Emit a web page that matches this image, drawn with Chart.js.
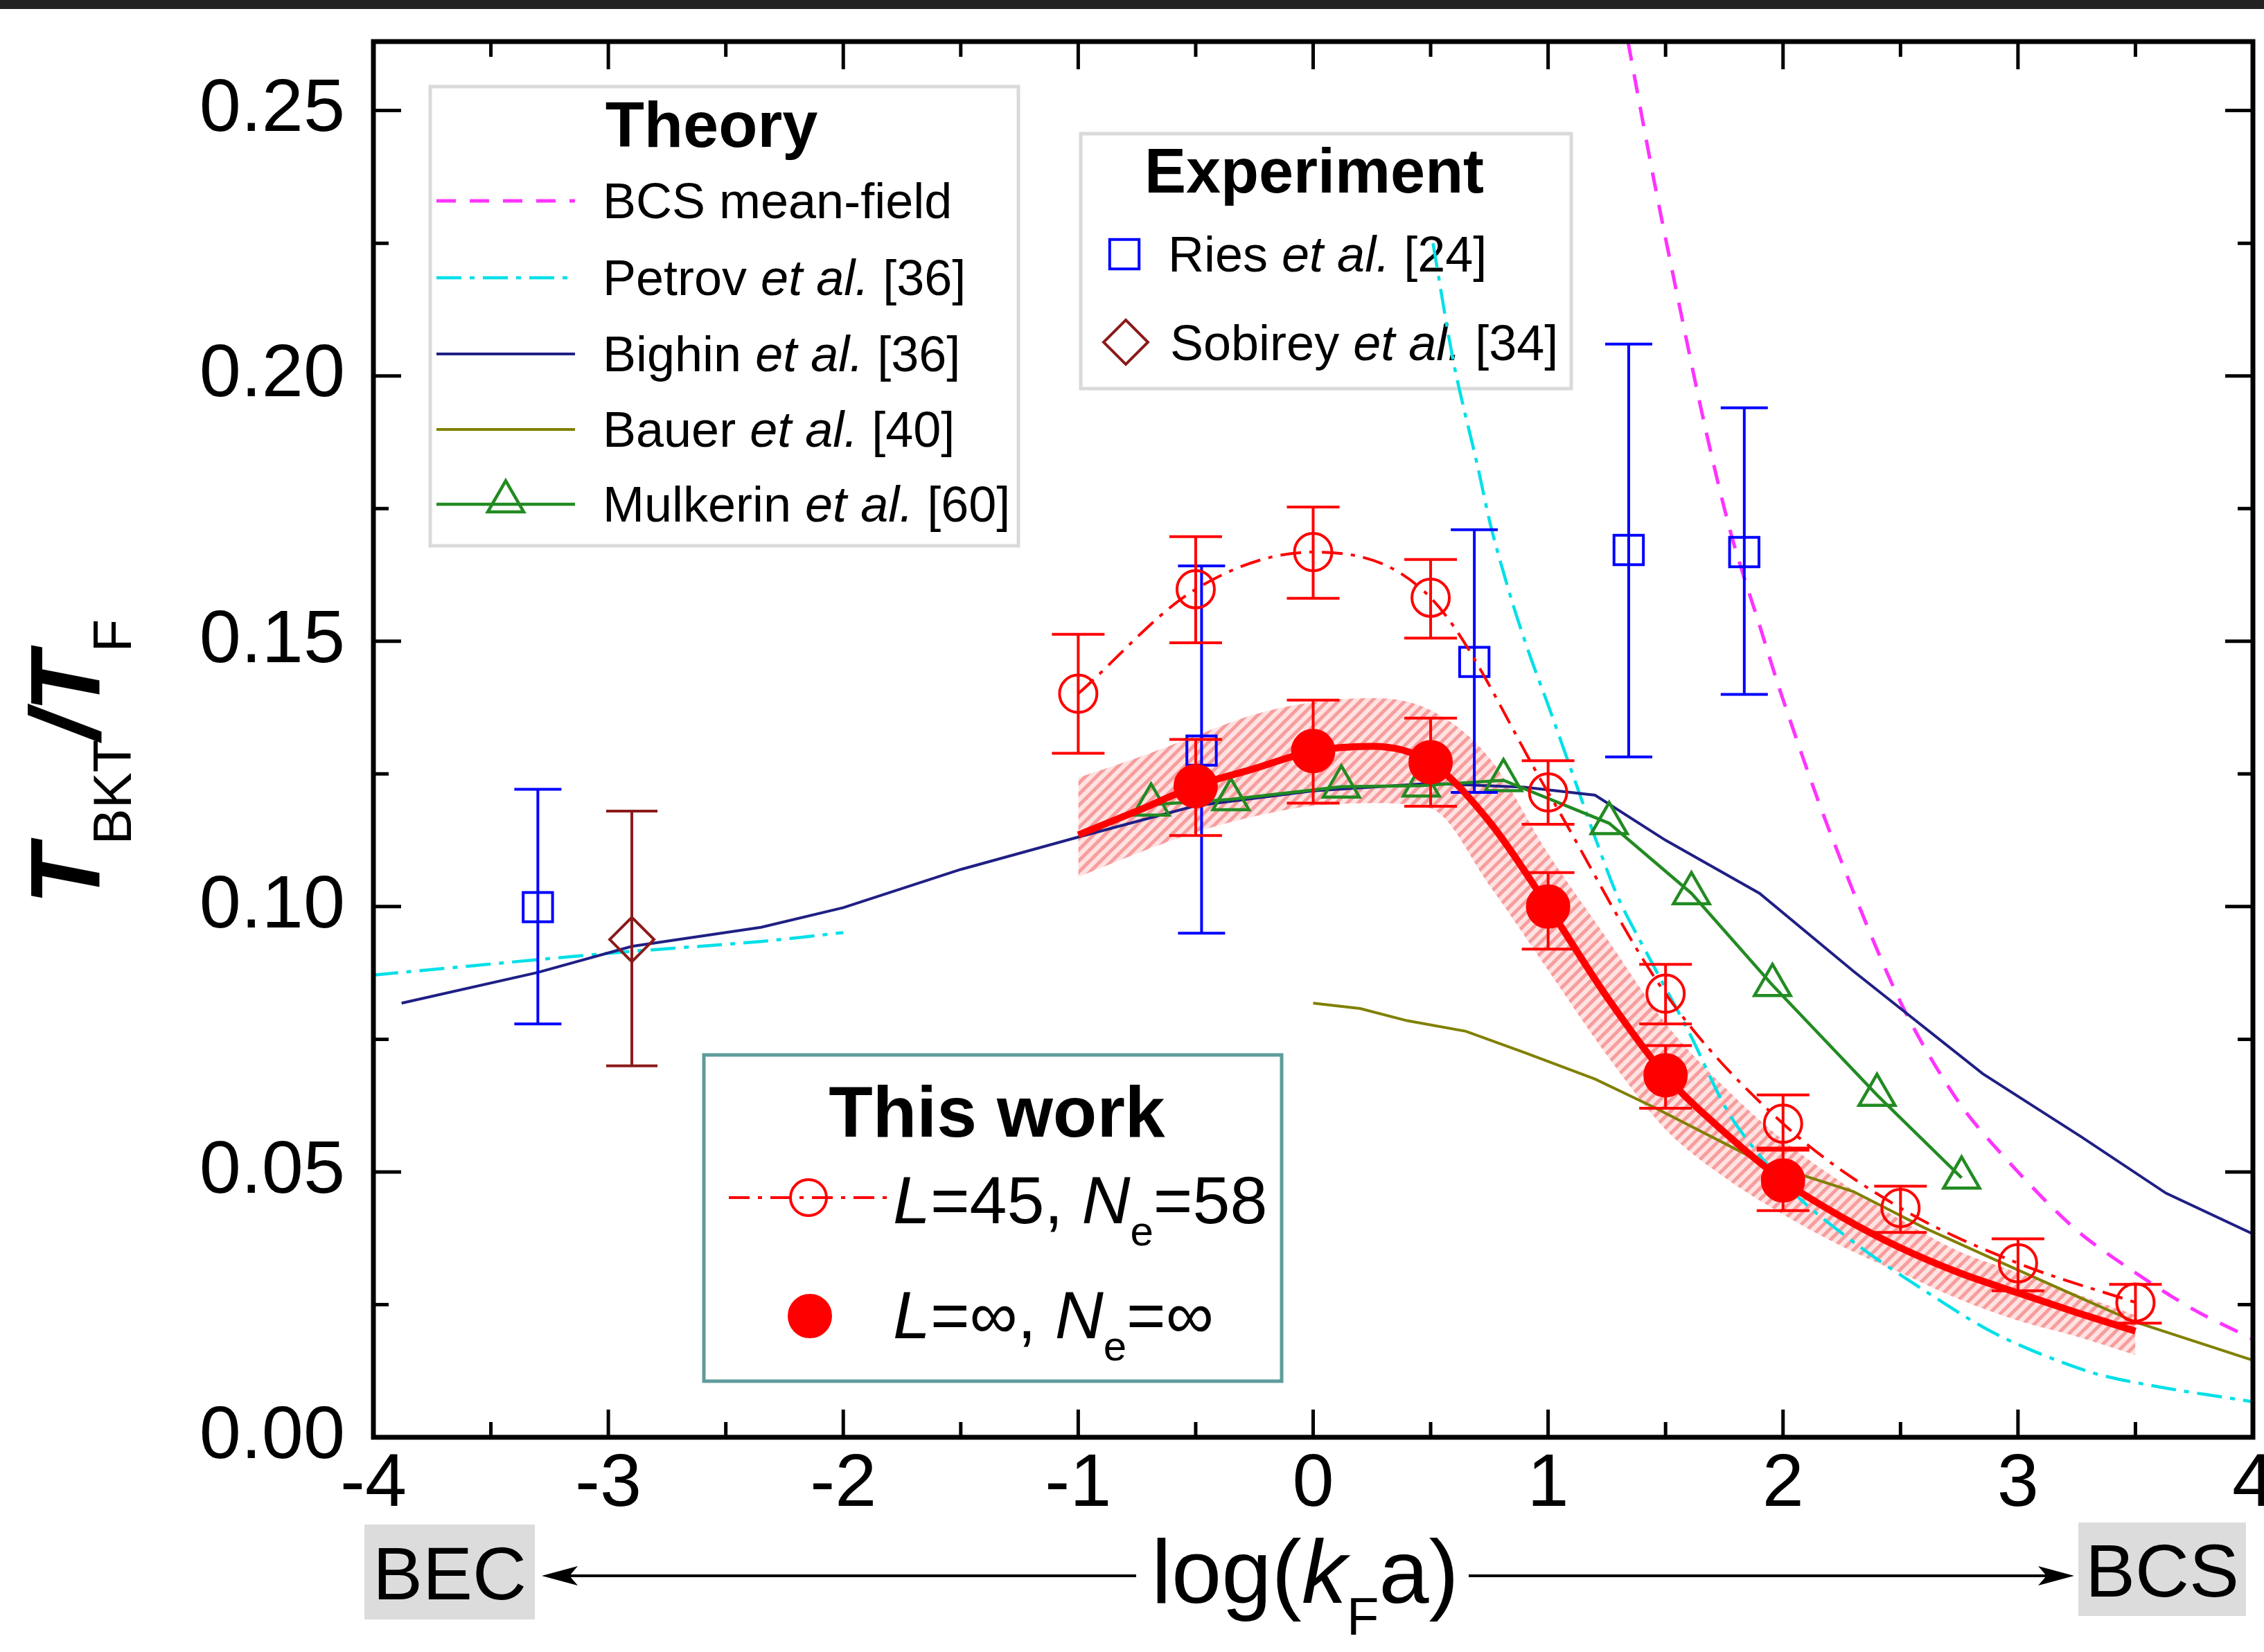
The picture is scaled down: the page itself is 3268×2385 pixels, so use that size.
<!DOCTYPE html>
<html>
<head>
<meta charset="utf-8">
<title>T_BKT / T_F across the BEC-BCS crossover</title>
<script src="https://cdn.jsdelivr.net/npm/chart.js@4.4.1/dist/chart.umd.min.js"></script>
<style>
  html, body { margin: 0; padding: 0; background: #fff; }
  canvas { display: block; }
</style>
</head>
<body>
<canvas id="chart" width="3268" height="2385" style="width:3268px;height:2385px"></canvas>
<script>
// axis ticks
const xTicks = [-4, -3, -2, -1, 0, 1, 2, 3, 4];
const yTicks = [0, 0.05, 0.10, 0.15, 0.20, 0.25];

// Theory curves
const bcsX = [1.34, 1.45, 1.56, 1.67, 1.78, 1.9, 2.0, 2.2, 2.5, 2.75, 3.0, 3.25, 3.5, 3.75, 4.0];
const bcsY = [0.263, 0.237, 0.213, 0.190, 0.170, 0.153, 0.139, 0.114, 0.082, 0.063, 0.050, 0.039, 0.031, 0.024, 0.0185];

// two pieces, null marks the gap
const petrovX = [-4, -3, -2.36, -2.0, -1, 0.51, 0.6, 0.7, 0.76, 0.85, 0.925, 1.0, 1.12, 1.2, 1.3, 1.43, 1.6, 1.77, 1.94, 2.1, 2.33, 2.5, 2.9, 3.3, 3.6, 4.0];
const petrovY = [0.0871, 0.0912, 0.0934, 0.0951, null, 0.225, 0.202, 0.183, 0.171, 0.157, 0.147, 0.138, 0.123, 0.113, 0.1015, 0.0904, 0.0763, 0.061, 0.051, 0.0438, 0.0358, 0.0306, 0.0196, 0.0124, 0.0095, 0.0067];

const bighinX = [-3.88, -3.3, -2.9, -2.35, -2.0, -1.5, -1.0, -0.5, 0, 0.5, 0.9, 1.2, 1.5, 1.9, 2.3, 2.85, 3.27, 3.63, 4.0];
const bighinY = [0.0818, 0.0876, 0.0925, 0.0961, 0.0998, 0.107, 0.1131, 0.119, 0.1218, 0.1232, 0.1225, 0.121, 0.1125, 0.1025, 0.0878, 0.0685, 0.0566, 0.046, 0.0383];

const bauerX = [0, 0.2, 0.4, 0.65, 0.9, 1.2, 1.45, 1.9, 2.3, 2.6, 2.9, 3.3, 3.5, 4.0];
const bauerY = [0.0818, 0.0808, 0.0785, 0.0765, 0.0725, 0.0675, 0.0622, 0.052, 0.0463, 0.0395, 0.0335, 0.0256, 0.0217, 0.0145];

const mulkX = [-0.69, -0.35, 0.12, 0.46, 0.81, 1.26, 1.61, 1.955, 2.40, 2.76];
const mulkY = [0.1192, 0.1202, 0.1226, 0.1228, 0.1238, 0.1157, 0.1025, 0.0852, 0.0645, 0.0489];

// Experiment
const riesX = [-3.30, -0.475, 0.686, 1.343, 1.835];
const riesY = [0.0999, 0.1294, 0.1461, 0.1672, 0.1668];
const riesLo = [0.0779, 0.0950, 0.1215, 0.1282, 0.1400];
const riesHi = [0.1221, 0.1642, 0.1710, 0.2060, 0.1940];

const sobX = [-2.90];
const sobY = [0.0938];
const sobLo = [0.0700];
const sobHi = [0.1180];

// This work, L=45 Ne=58
const l45X = [-1, -0.5, 0, 0.5, 1.0, 1.5, 2.0, 2.5, 3.0, 3.5];
const l45Y = [0.1401, 0.1598, 0.1668, 0.1582, 0.1215, 0.0836, 0.0591, 0.0432, 0.0328, 0.0254];
const l45Lo = [0.1289, 0.1497, 0.1581, 0.1506, 0.1155, 0.0779, 0.0541, 0.0386, 0.0276, 0.0215];
const l45Hi = [0.1513, 0.1697, 0.1753, 0.1654, 0.1275, 0.0891, 0.0645, 0.0473, 0.0374, 0.0288];

// This work, extrapolated
const infX = [-0.5, 0, 0.5, 1.0, 1.5, 2.0];
const infY = [0.1227, 0.1293, 0.1272, 0.1000, 0.0682, 0.0484];
const infLo = [0.1134, 0.1195, 0.1189, 0.0920, 0.0620, 0.0427];
const infHi = [0.1315, 0.1389, 0.1355, 0.1064, 0.0738, 0.0545];

const fitX = [-1, -0.75, -0.5, -0.25, 0, 0.25, 0.5, 0.75, 1.0, 1.25, 1.5, 1.75, 2.0, 2.25, 2.5, 2.75, 3.0, 3.25, 3.5];
const fitY = [0.1135, 0.118, 0.1227, 0.126, 0.1293, 0.1302, 0.1272, 0.1160, 0.1000, 0.083, 0.0682, 0.0575, 0.0484, 0.0415, 0.0357, 0.031, 0.0272, 0.0235, 0.0200];
const bandHi = [0.1243, 0.128, 0.1322, 0.1362, 0.1385, 0.1393, 0.137, 0.128, 0.110, 0.094, 0.078, 0.066, 0.056, 0.048, 0.041, 0.035, 0.031, 0.027, 0.023];
const bandLo = [0.1056, 0.110, 0.1140, 0.117, 0.119, 0.1195, 0.1185, 0.104, 0.088, 0.072, 0.058, 0.049, 0.042, 0.036, 0.031, 0.026, 0.022, 0.019, 0.0155];

const FONT = "'Liberation Sans', Arial, Helvetica, sans-serif";

function pts(xs, ys) {
    return xs.map((x, i) => ({ x: x, y: ys[i] }));
}

function hatch() {
    const c = document.createElement('canvas');
    c.width = 16; c.height = 16;
    const g = c.getContext('2d');
    g.fillStyle = 'rgba(255,175,175,0.36)';
    g.fillRect(0, 0, 16, 16);
    g.strokeStyle = 'rgba(240,100,100,0.55)';
    g.lineWidth = 5;
    g.beginPath();
    g.moveTo(-4, 4); g.lineTo(4, -4);
    g.moveTo(0, 16); g.lineTo(16, 0);
    g.moveTo(12, 20); g.lineTo(20, 12);
    g.stroke();
    return document.getElementById('chart').getContext('2d').createPattern(c, 'repeat');
}

// text made of several styled pieces: [text, font, dy]
function rich(ctx, x, y, parts, align) {
    let w = 0;
    parts.forEach(p => { ctx.font = p[1]; w += ctx.measureText(p[0]).width; });
    let cx = align === 'center' ? x - w / 2 : x;
    ctx.textAlign = 'left';
    ctx.textBaseline = 'alphabetic';
    parts.forEach(p => {
        ctx.font = p[1];
        ctx.fillText(p[0], cx, y + (p[2] || 0));
        cx += ctx.measureText(p[0]).width;
    });
}

function labelParts(label, size) {
    const reg = size + 'px ' + FONT, it = 'italic ' + size + 'px ' + FONT;
    const bits = label.split('et al.');
    if (bits.length < 2) return [[label, reg]];
    return [[bits[0], reg], ['et al.', it], [bits[1], reg]];
}

function marker(ctx, ds, x, y, r) {
    ctx.save();
    ctx.setLineDash([]);
    ctx.lineWidth = ds.pointBorderWidth;
    ctx.strokeStyle = ds.borderColor;
    ctx.fillStyle = ds.pointBackgroundColor;
    ctx.beginPath();
    if (ds.pointStyle === 'triangle') {
        ctx.moveTo(x, y - r);
        ctx.lineTo(x + r * Math.cos(Math.PI / 6), y + r / 2);
        ctx.lineTo(x - r * Math.cos(Math.PI / 6), y + r / 2);
        ctx.closePath();
    } else if (ds.pointStyle === 'rect') {
        const s = r * Math.SQRT1_2;
        ctx.rect(x - s, y - s, 2 * s, 2 * s);
    } else if (ds.pointStyle === 'rectRot') {
        ctx.moveTo(x, y - r); ctx.lineTo(x + r, y); ctx.lineTo(x, y + r); ctx.lineTo(x - r, y);
        ctx.closePath();
    } else {
        ctx.arc(x, y, r, 0, Math.PI * 2);
    }
    ctx.fill();
    ctx.stroke();
    ctx.restore();
}

function sample(ctx, ds, x1, x2, y) {
    ctx.save();
    ctx.strokeStyle = ds.borderColor;
    ctx.lineWidth = ds.borderWidth;
    ctx.setLineDash(ds.borderDash || []);
    ctx.beginPath(); ctx.moveTo(x1, y); ctx.lineTo(x2, y); ctx.stroke();
    ctx.restore();
}

function box(ctx, x1, y1, x2, y2, color, w) {
    ctx.save();
    ctx.fillStyle = '#fff';
    ctx.fillRect(x1, y1, x2 - x1, y2 - y1);
    ctx.strokeStyle = color;
    ctx.lineWidth = w;
    ctx.strokeRect(x1, y1, x2 - x1, y2 - y1);
    ctx.restore();
}

function arrowHead(ctx, x, y, dir) {
    ctx.beginPath();
    ctx.moveTo(x, y);
    ctx.lineTo(x - dir * 52, y - 14);
    ctx.lineTo(x - dir * 40, y);
    ctx.lineTo(x - dir * 52, y + 14);
    ctx.closePath();
    ctx.fill();
}

// keep the plot frame where the figure has it, labels may overhang
function noPad(s) {
    s.paddingLeft = s.paddingRight = s.paddingTop = s.paddingBottom = 0;
    s.getPadding = () => ({ left: 0, top: 0, right: 0, bottom: 0 });
}

const datasets = [
    { label: 'band hi', data: pts(fitX, bandHi), fill: '+1', backgroundColor: hatch(), borderColor: 'rgba(0,0,0,0)', borderWidth: 0, pointRadius: 0, cubicInterpolationMode: 'monotone', order: 20 },
    { label: 'band lo', data: pts(fitX, bandLo), fill: false, borderColor: 'rgba(0,0,0,0)', borderWidth: 0, pointRadius: 0, cubicInterpolationMode: 'monotone', order: 21 },
    { label: 'BCS mean-field', data: pts(bcsX, bcsY), borderColor: '#ff33ff', borderWidth: 5, borderDash: [28, 20], pointRadius: 0, tension: 0.3, order: 13 },
    { label: 'Petrov et al. [36]', data: pts(petrovX, petrovY), borderColor: '#00e0e8', borderWidth: 4.5, borderDash: [36, 12, 7, 12], pointRadius: 0, tension: 0.3, spanGaps: false, order: 14 },
    { label: 'Bighin et al. [36]', data: pts(bighinX, bighinY), borderColor: '#1f1f85', borderWidth: 4, pointRadius: 0, tension: 0, order: 12 },
    { label: 'Bauer et al. [40]', data: pts(bauerX, bauerY), borderColor: '#808000', borderWidth: 4, pointRadius: 0, tension: 0, order: 15 },
    { label: 'Mulkerin et al. [60]', data: pts(mulkX, mulkY), borderColor: '#228b22', borderWidth: 4.5, pointStyle: 'triangle', pointRadius: 30, pointBorderWidth: 4.5, pointBackgroundColor: 'rgba(0,0,0,0)', tension: 0, order: 11 },
    { label: 'Ries et al. [24]', data: pts(riesX, riesY), showLine: false, borderColor: '#0000ff', pointStyle: 'rect', pointRadius: 30, pointBorderWidth: 4, pointBackgroundColor: 'rgba(0,0,0,0)', errLo: riesLo, errHi: riesHi, capHalf: 34, order: 9 },
    { label: 'Sobirey et al. [34]', data: pts(sobX, sobY), showLine: false, borderColor: '#8b1a1a', pointStyle: 'rectRot', pointRadius: 32, pointBorderWidth: 4, pointBackgroundColor: 'rgba(0,0,0,0)', errLo: sobLo, errHi: sobHi, capHalf: 37, order: 9 },
    { label: 'L=45, Ne=58', data: pts(l45X, l45Y), borderColor: '#ff0000', borderWidth: 4, borderDash: [30, 12, 6, 12], pointStyle: 'circle', pointRadius: 27, pointBorderWidth: 4, pointBackgroundColor: 'rgba(0,0,0,0)', cubicInterpolationMode: 'monotone', errLo: l45Lo, errHi: l45Hi, capHalf: 38, order: 6 },
    { label: 'fit', data: pts(fitX, fitY), borderColor: '#ff0000', borderWidth: 10, pointRadius: 0, cubicInterpolationMode: 'monotone', order: 5 },
    { label: 'L=inf, Ne=inf', data: pts(infX, infY), showLine: false, borderColor: '#ff0000', pointStyle: 'circle', pointRadius: 31, pointBorderWidth: 2, pointBackgroundColor: '#ff0000', errLo: infLo, errHi: infHi, capHalf: 38, order: 4 }
];

const errorBars = {
    id: 'errorBars',
    beforeDatasetDraw(chart, args) {
        const ds = chart.data.datasets[args.index];
        if (!ds.errLo) return;
        const xs = chart.scales.x, ys = chart.scales.y, ctx = chart.ctx;
        ctx.save();
        ctx.strokeStyle = ds.borderColor;
        ctx.lineWidth = 4;
        ctx.setLineDash([]);
        ds.data.forEach((p, i) => {
            const px = xs.getPixelForValue(p.x);
            const lo = ys.getPixelForValue(ds.errLo[i]);
            const hi = ys.getPixelForValue(ds.errHi[i]);
            const c = ds.capHalf;
            ctx.beginPath();
            ctx.moveTo(px, lo); ctx.lineTo(px, hi);
            ctx.moveTo(px - c, lo); ctx.lineTo(px + c, lo);
            ctx.moveTo(px - c, hi); ctx.lineTo(px + c, hi);
            ctx.stroke();
        });
        ctx.restore();
    }
};

const decor = {
    id: 'decor',
    beforeDraw(chart) {
        const ctx = chart.ctx;
        ctx.save();
        ctx.fillStyle = '#fff';
        ctx.fillRect(0, 0, chart.width, chart.height);
        ctx.fillStyle = '#222';
        ctx.fillRect(0, 0, chart.width, 13);
        ctx.restore();
    },
    beforeDatasetsDraw(chart) {
        const ctx = chart.ctx, d = chart.data.datasets;
        ctx.save();
        ctx.fillStyle = '#000';

        // Theory legend
        box(ctx, 621, 125, 1470, 788, '#dadada', 5);
        rich(ctx, 1027, 212, [['Theory', 'bold 92px ' + FONT]], 'center');
        const rows = [290, 401, 511, 620, 728];
        [2, 3, 4, 5, 6].forEach((k, i) => {
            sample(ctx, d[k], 630, 830, rows[i]);
            if (d[k].pointStyle) marker(ctx, d[k], 730, rows[i] - 4, 30);
            ctx.fillStyle = '#000';
            rich(ctx, 870, rows[i] + 25, labelParts(d[k].label, 72));
        });

        // Experiment legend
        box(ctx, 1560, 193, 2268, 561, '#dadada', 5);
        ctx.fillStyle = '#000';
        rich(ctx, 1897, 278, [['Experiment', 'bold 90px ' + FONT]], 'center');
        marker(ctx, d[7], 1623, 367, 30);
        ctx.fillStyle = '#000';
        rich(ctx, 1686, 392, labelParts(d[7].label, 72));
        marker(ctx, d[8], 1625, 494, 32);
        ctx.fillStyle = '#000';
        rich(ctx, 1689, 520, labelParts(d[8].label, 72));

        // This work legend
        box(ctx, 1016, 1523, 1850, 1994, '#5f9c9c', 5);
        ctx.fillStyle = '#000';
        rich(ctx, 1439, 1641, [['This work', 'bold 104px ' + FONT]], 'center');
        sample(ctx, d[9], 1052, 1287, 1729);
        marker(ctx, d[9], 1167, 1729, 26);
        marker(ctx, d[11], 1169, 1900, 31);
        const big = '97px ' + FONT, bigI = 'italic 97px ' + FONT, sub = '60px ' + FONT;
        ctx.fillStyle = '#000';
        rich(ctx, 1289, 1766, [['L', bigI], ['=45, ', big], ['N', bigI], ['e', sub, 32], ['=58', big]]);
        rich(ctx, 1289, 1932, [['L', bigI], ['=\u221E, ', big], ['N', bigI], ['e', sub, 32], ['=\u221E', big]]);
        ctx.restore();
    },
    afterDraw(chart) {
        const ctx = chart.ctx, a = chart.chartArea, xs = chart.scales.x, ys = chart.scales.y;
        ctx.save();
        ctx.strokeStyle = '#000';
        ctx.setLineDash([]);
        ctx.lineWidth = 5;
        ctx.beginPath();
        xTicks.forEach((v, i) => {
            const px = xs.getPixelForValue(v);
            ctx.moveTo(px, a.bottom); ctx.lineTo(px, a.bottom - 40);
            ctx.moveTo(px, a.top); ctx.lineTo(px, a.top + 40);
            if (i < xTicks.length - 1) {
                const mx = xs.getPixelForValue((v + xTicks[i + 1]) / 2);
                ctx.moveTo(mx, a.bottom); ctx.lineTo(mx, a.bottom - 22);
                ctx.moveTo(mx, a.top); ctx.lineTo(mx, a.top + 22);
            }
        });
        yTicks.forEach((v, i) => {
            const py = ys.getPixelForValue(v);
            ctx.moveTo(a.left, py); ctx.lineTo(a.left + 40, py);
            ctx.moveTo(a.right, py); ctx.lineTo(a.right - 40, py);
            const m = v + 0.025;
            if (m < ys.max) {
                const my = ys.getPixelForValue(m);
                ctx.moveTo(a.left, my); ctx.lineTo(a.left + 22, my);
                ctx.moveTo(a.right, my); ctx.lineTo(a.right - 22, my);
            }
        });
        ctx.stroke();
        ctx.lineWidth = 7;
        ctx.strokeRect(a.left, a.top, a.right - a.left, a.bottom - a.top);

        // y axis title, rotated
        ctx.fillStyle = '#000';
        ctx.save();
        ctx.translate(144, 1100);
        ctx.rotate(-Math.PI / 2);
        const T = 'bold italic 142px ' + FONT, s = '78px ' + FONT;
        rich(ctx, 0, 0, [['T', T], ['BKT', s, 45], ['/', T], ['T', T], ['F', s, 45]], 'center');
        ctx.restore();

        // x axis title with arrows
        rich(ctx, 1884, 2314, [['log(', '130px ' + FONT], ['k', 'italic 130px ' + FONT], ['F', '76px ' + FONT, 46], ['a)', '130px ' + FONT]], 'center');
        ctx.lineWidth = 4;
        ctx.beginPath();
        ctx.moveTo(1640, 2275); ctx.lineTo(800, 2275);
        ctx.moveTo(2120, 2275); ctx.lineTo(2975, 2275);
        ctx.stroke();
        arrowHead(ctx, 782, 2275, -1);
        arrowHead(ctx, 2994, 2275, 1);

        ctx.fillStyle = '#dcdcdc';
        ctx.fillRect(526, 2201, 246, 137);
        ctx.fillRect(3000, 2198, 242, 135);
        ctx.fillStyle = '#000';
        rich(ctx, 649, 2309, [['BEC', '108px ' + FONT]], 'center');
        rich(ctx, 3121, 2305, [['BCS', '108px ' + FONT]], 'center');
        ctx.restore();
    }
};

new Chart(document.getElementById('chart'), {
    type: 'line',
    data: { datasets: datasets },
    options: {
        responsive: false,
        animation: false,
        devicePixelRatio: 1,
        layout: { autoPadding: false, padding: { top: 60, right: 16, left: 0, bottom: 0 } },
        plugins: { legend: { display: false }, tooltip: { enabled: false } },
        scales: {
            x: {
                type: 'linear', min: -4, max: 4,
                grid: { display: false, drawTicks: false },
                border: { display: false },
                afterBuildTicks: s => { s.ticks = xTicks.map(v => ({ value: v })); },
                afterFit: s => { s.height = 310; noPad(s); },
                ticks: { font: { family: FONT, size: 108 }, color: '#000', padding: 4, autoSkip: false, maxRotation: 0, callback: v => String(v) }
            },
            y: {
                type: 'linear', min: 0, max: 0.263,
                grid: { display: false, drawTicks: false },
                border: { display: false },
                afterBuildTicks: s => { s.ticks = yTicks.map(v => ({ value: v })); },
                afterFit: s => { s.width = 539; noPad(s); },
                ticks: { font: { family: FONT, size: 108 }, color: '#000', padding: 41, callback: v => v.toFixed(2) }
            }
        }
    },
    plugins: [decor, errorBars]
});
</script>
</body>
</html>
